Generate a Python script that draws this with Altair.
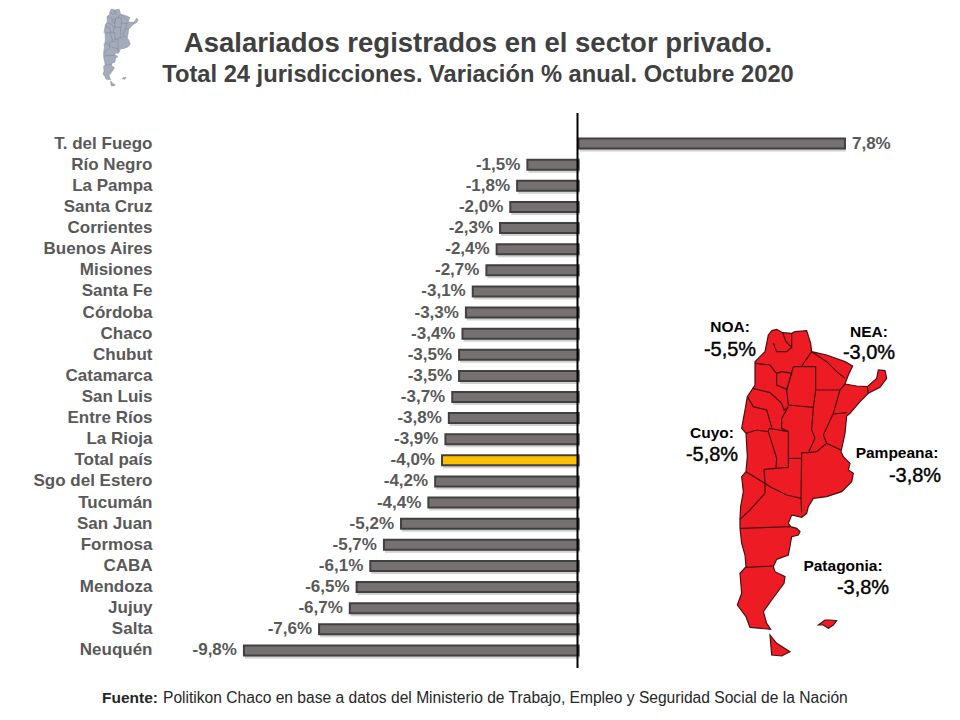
import altair as alt
import pandas as pd

provincias = ["T. del Fuego","Río Negro","La Pampa","Santa Cruz","Corrientes","Buenos Aires","Misiones",
              "Santa Fe","Córdoba","Chaco","Chubut","Catamarca","San Luis","Entre Ríos","La Rioja","Total país",
              "Sgo del Estero","Tucumán","San Juan","Formosa","CABA","Mendoza","Jujuy","Salta","Neuquén"]
variacion = [7.8,-1.5,-1.8,-2.0,-2.3,-2.4,-2.7,-3.1,-3.3,-3.4,-3.5,-3.5,-3.7,-3.8,-3.9,-4.0,-4.2,-4.4,-5.2,-5.7,-6.1,-6.5,-6.7,-7.6,-9.8]
regiones = ["NOA:","NEA:","Cuyo:","Pampeana:","Patagonia:"]
regiones_val = ["-5,5%","-3,0%","-5,8%","-3,8%","-3,8%"]

# Map shapes, in map units
contorno = [(335,62),(350,58),(368,68),(395,70),(405,65),(440,62),(452,100),(455,125),(500,135),(555,155),(578,168),
 (565,195),(555,222),(590,228),(622,230),(650,205),(655,180),(675,182),(680,205),(660,232),(625,250),(600,275),
 (570,310),(560,318),(555,370),(543,425),(550,440),(570,460),(565,480),(580,490),(575,515),(545,545),(500,560),
 (460,565),(445,590),(440,610),(425,622),(395,615),(385,640),(392,650),(410,655),(420,665),(415,675),(395,680),
 (385,735),(350,748),(340,770),(345,785),(375,800),(372,820),(335,870),(310,905),(320,940),(332,958),(270,952),
 (258,920),(232,885),(245,850),(240,790),(258,770),(255,735),(245,700),(240,655),(240,625),(242,590),(250,545),
 (245,500),(258,485),(262,440),(258,370),(245,355),(255,300),(262,260),(285,225),(285,155),(315,125),(325,75),(335,62)]
fuego = [(330,975),(350,1000),(390,1025),(365,1038),(335,1035),(330,975)]
malvinas = [(475,945),(495,930),(510,930),(530,932),(520,945),(505,955),(490,945),(475,945)]
limites = [
 [(368,68),(378,95),(395,112),(395,72)],
 [(340,100),(350,125),(380,125),(395,112)],
 [(455,125),(425,168)],
 [(455,125),(500,155),(530,185),(555,205)],
 [(400,170),(467,170),(467,240),(540,240),(555,222)],
 [(400,170),(380,240),(385,285),(460,292),(467,240)],
 [(460,292),(455,360),(465,385),(445,428)],
 [(540,240),(520,310),(490,375),(500,400),(470,425),(445,428)],
 [(520,312),(560,308)],
 [(500,400),(543,420)],
 [(622,230),(625,250)],
 [(385,290),(365,325),(365,355),(385,365),(385,445),(425,445)],
 [(327,355),(325,365),(350,445),(348,475),(385,472),(385,445)],
 [(385,365),(327,355)],
 [(425,428),(445,428)],
 [(425,428),(423,565),(425,610)],
 [(312,478),(348,475)],
 [(312,478),(315,520),(330,530),(380,555),(423,565)],
 [(258,485),(315,520)],
 [(315,550),(270,600),(240,628)],
 [(315,520),(315,550)],
 [(240,655),(390,650)],
 [(258,772),(340,768)],
 [(258,370),(290,360),(325,365)],
 [(262,260),(280,290),(320,300),(335,352)],
 [(278,235),(330,248),(365,280),(372,300),(385,290)],
 [(350,190),(365,185),(395,190),(380,238),(350,225),(350,190)],
 [(285,160),(330,165),(345,185),(350,190)],
]

def feature(kind, coords):
    pts = [list(p) for p in coords]
    geom = {"type": "Polygon", "coordinates": [pts]} if kind == "poly" else {"type": "LineString", "coordinates": pts}
    return {"type": "Feature", "properties": {}, "geometry": geom}

def mini(coords):
    # the same outline shrunk for the small emblem beside the title
    return [((103 + (x - 232) * 0.078 - 660) * 3, (9 + (y - 58) * 0.0785 - 310) * 3) for x, y in coords]

polys = [contorno, fuego, malvinas]
df = pd.DataFrame({"provincia": provincias, "valor": variacion})
df["etiqueta"] = [f"{v:.1f}".replace(".", ",") + "%" for v in variacion]
df["total"] = [p == "Total país" for p in provincias]

FONT = "Liberation Sans"
TXT = "#595959"
DOM = [-12.258, 10.876]
x = alt.X("valor:Q", axis=None, scale=alt.Scale(domain=DOM, nice=False, zero=False))
y = alt.Y("provincia:N", sort=provincias, scale=alt.Scale(paddingInner=0, paddingOuter=0),
          axis=alt.Axis(title=None, domain=False, ticks=False, labelPadding=8, labelFont=FONT, labelFontSize=17,
                        labelFontWeight="bold", labelColor=TXT, labelAlign="right"))

base = alt.Chart(df)
sombra = base.mark_bar(height=12, color="#bdbdbd", opacity=0.7, xOffset=1, yOffset=2).encode(x=x, y=y)
barras = base.mark_bar(height=10, stroke="#404040", strokeWidth=2).encode(
    x=x, y=y,
    color=alt.Color("total:N", legend=None, scale=alt.Scale(domain=[False, True], range=["#767171", "#FFC000"])))
eje = alt.Chart(pd.DataFrame({"valor": [0]})).mark_rule(color="black", strokeWidth=2).encode(
    x=alt.value(417.5), y=alt.value(-20), y2=alt.value(535))
neg = base.transform_filter("datum.valor < 0").mark_text(align="right", dx=-7, font=FONT, fontSize=17, fontWeight="bold", color=TXT).encode(x=x, y=y, text="etiqueta:N")
pos = base.transform_filter("datum.valor > 0").mark_text(align="left", dx=7, font=FONT, fontSize=17, fontWeight="bold", color=TXT).encode(x=x, y=y, text="etiqueta:N")

def geo(features, **kw):
    return alt.Chart(alt.Data(values=features)).mark_geoshape(clip=False, **kw).project(type="identity", scale=1/3, translate=[500, 177])

mapa = geo([feature("poly", p) for p in polys], fill="#ED1C24", stroke="#4a1010", strokeWidth=1.2)
mapa_lim = geo([feature("line", l) for l in limites], fill=None, filled=False, stroke="#4a1010", strokeWidth=1.2)
mini_f = geo([feature("poly", mini(p)) for p in polys], fill="#A4ABBA", stroke="#8a91a0", strokeWidth=0.5)
mini_l = geo([feature("line", mini(l)) for l in limites], fill=None, filled=False, stroke="#7d8494", strokeWidth=0.5)

def texto(t, px, py, size, weight="bold", color="black", align="center", **kw):
    return alt.Chart(pd.DataFrame({"t": [t]})).mark_text(
        text=t, align=align, baseline="middle", font=FONT, fontSize=size, fontWeight=weight, color=color,
        x=px - 160, y=py - 133, **kw).encode(opacity=alt.value(1))

grueso = dict(stroke="black", strokeWidth=0.4)
anots = [
    texto(regiones[0], 730, 327, 15.5), texto(regiones_val[0], 730, 350, 20, "normal", **grueso),
    texto(regiones[1], 869, 332, 15.5), texto(regiones_val[1], 869, 353, 20, "normal", **grueso),
    texto(regiones[2], 712, 433, 15.5), texto(regiones_val[2], 712, 455, 20, "normal", **grueso),
    texto(regiones[3], 897, 453, 15.5), texto(regiones_val[3], 915, 476, 20, "normal", **grueso),
    texto(regiones[4], 843, 566, 15.5), texto(regiones_val[4], 863, 588, 20, "normal", **grueso),
    texto("Asalariados registrados en el sector privado.", 478, 44, 27.5, color="#404040"),
    texto("Total 24 jurisdicciones. Variación % anual. Octubre 2020", 478, 75, 23.7, color="#404040"),
    texto("Fuente:", 102, 698, 15.5, color="#262626", align="left"),
    texto("Politikon Chaco en base a datos del Ministerio de Trabajo, Empleo y Seguridad Social de la Nación", 163, 698, 15.6, "normal", "#262626", "left"),
]

chart = alt.layer(mapa, mapa_lim, mini_f, mini_l, sombra, barras, eje, neg, pos, *anots).resolve_scale(color="independent").properties(
    width=790, height=528, padding={"left": 152, "top": 125, "right": 0, "bottom": 60},
    autosize=alt.AutoSizeParams(type="none"), background="white"
).configure_view(stroke=None)

chart.save("out.html", embed_options={"renderer": "svg", "actions": False})
